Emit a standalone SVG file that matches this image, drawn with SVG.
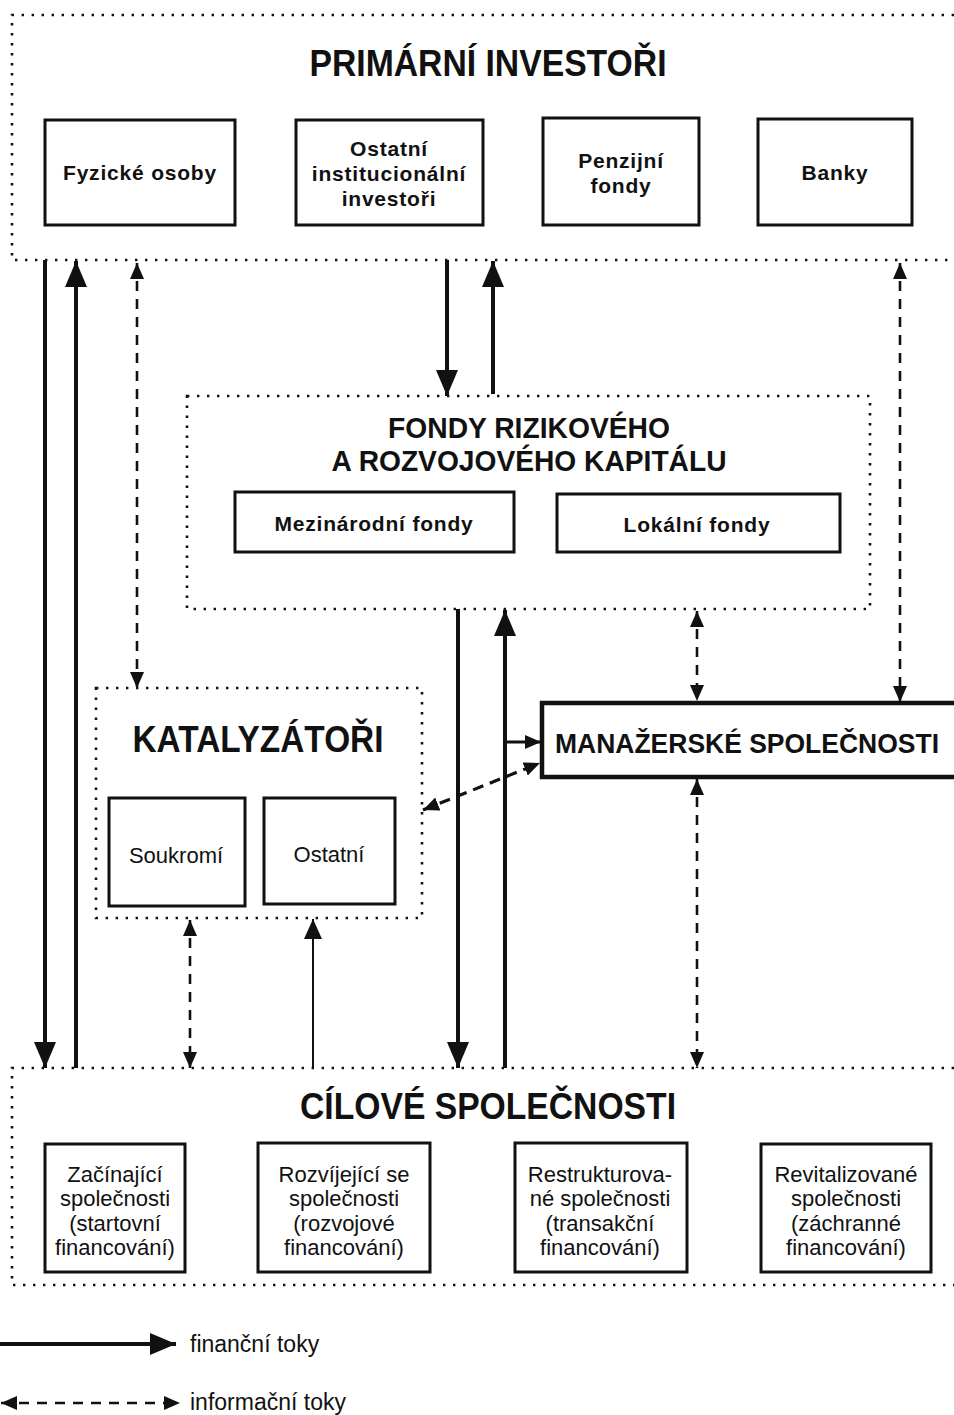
<svg xmlns="http://www.w3.org/2000/svg" width="954" height="1415" viewBox="0 0 954 1415">
<style>
.bg{fill:#ffffff}
.dot{fill:none;stroke:#111;stroke-width:2.6;stroke-dasharray:2.4 7.6}
.box{fill:#fff;stroke:#111;stroke-width:3}
.mbox{fill:#fff;stroke:#111;stroke-width:4.5}
.ttl{font-family:"Liberation Sans",Arial,sans-serif;font-weight:bold;fill:#111;text-anchor:middle}
.lb{font-family:"Liberation Sans",Arial,sans-serif;font-weight:bold;font-size:21px;letter-spacing:0.8px;fill:#111;text-anchor:middle}
.ln{font-family:"Liberation Sans",Arial,sans-serif;font-size:22px;fill:#111;text-anchor:middle}
.leg{font-family:"Liberation Sans",Arial,sans-serif;font-size:23px;fill:#111}
.fin{fill:none;stroke:#111;stroke-width:4;marker-end:url(#big)}
.fin2{fill:none;stroke:#111;stroke-width:2;marker-end:url(#mid)}
.fin3{fill:none;stroke:#111;stroke-width:3;marker-end:url(#sm)}
.inf{fill:none;stroke:#111;stroke-width:2.6;stroke-dasharray:10 8;marker-start:url(#sm);marker-end:url(#sm)}
.infd{fill:none;stroke:#111;stroke-width:3.2;stroke-dasharray:11 7;marker-start:url(#sm);marker-end:url(#sm)}
</style>
<defs>
<marker id="big" markerUnits="userSpaceOnUse" markerWidth="28" markerHeight="24" refX="26" refY="11" orient="auto"><path d="M0,0 L26,11 L0,22 z" fill="#111"/></marker>
<marker id="mid" markerUnits="userSpaceOnUse" markerWidth="22" markerHeight="20" refX="20" refY="9" orient="auto"><path d="M0,0 L20,9 L0,18 z" fill="#111"/></marker>
<marker id="sm" markerUnits="userSpaceOnUse" markerWidth="18" markerHeight="16" refX="16" refY="7" orient="auto-start-reverse"><path d="M0,0 L16,7 L0,14 z" fill="#111"/></marker>
</defs>
<rect class="bg" x="0" y="0" width="954" height="1415"/>

<g id="primarni-investori">
<path class="dot" d="M954,15 L12,15 L12,260 L954,260"/>
<text class="ttl" x="488" y="76" font-size="36" textLength="357" lengthAdjust="spacingAndGlyphs">PRIMÁRNÍ INVESTOŘI</text>
</g>
<g id="fyzicke-osoby">
<rect class="box" x="45" y="120" width="190" height="105"/>
<text class="lb" x="140" y="180">Fyzické osoby</text>
</g>
<g id="ostatni-institucionalni">
<rect class="box" x="296" y="120" width="187" height="105"/>
<text class="lb" x="389" y="156">Ostatní</text>
<text class="lb" x="389" y="181">institucionální</text>
<text class="lb" x="389" y="206">investoři</text>
</g>
<g id="penzijni-fondy">
<rect class="box" x="543" y="118" width="156" height="107"/>
<text class="lb" x="621" y="168">Penzijní</text>
<text class="lb" x="621" y="193">fondy</text>
</g>
<g id="banky">
<rect class="box" x="758" y="119" width="154" height="106"/>
<text class="lb" x="835" y="180">Banky</text>
</g>

<g id="fondy">
<rect class="dot" x="187" y="396" width="683" height="213"/>
<text class="ttl" x="529" y="438" font-size="29" textLength="282" lengthAdjust="spacingAndGlyphs">FONDY RIZIKOVÉHO</text>
<text class="ttl" x="529" y="471" font-size="29" textLength="395" lengthAdjust="spacingAndGlyphs">A ROZVOJOVÉHO KAPITÁLU</text>
</g>
<g id="mezinarodni-fondy">
<rect class="box" x="235" y="492" width="279" height="60"/>
<text class="lb" x="374" y="531">Mezinárodní fondy</text>
</g>
<g id="lokalni-fondy">
<rect class="box" x="557" y="494" width="283" height="58"/>
<text class="lb" x="697" y="532">Lokální fondy</text>
</g>

<g id="katalyzatori">
<rect class="dot" x="96" y="688" width="326" height="230"/>
<text class="ttl" x="258" y="752" font-size="36" textLength="251" lengthAdjust="spacingAndGlyphs">KATALYZÁTOŘI</text>
</g>
<g id="soukromi">
<rect class="box" x="109" y="798" width="136" height="108"/>
<text class="ln" x="176" y="863">Soukromí</text>
</g>
<g id="ostatni">
<rect class="box" x="264" y="798" width="131" height="106"/>
<text class="ln" x="329" y="862">Ostatní</text>
</g>

<g id="manazerske-spolecnosti">
<rect class="mbox" x="542" y="703" width="440" height="74"/>
<text class="ttl" x="747" y="753" font-size="27" textLength="384" lengthAdjust="spacingAndGlyphs">MANAŽERSKÉ SPOLEČNOSTI</text>
</g>

<g id="cilove-spolecnosti">
<path class="dot" d="M954,1068 L12,1068 L12,1285 L954,1285"/>
<text class="ttl" x="488" y="1119" font-size="36" textLength="376" lengthAdjust="spacingAndGlyphs">CÍLOVÉ SPOLEČNOSTI</text>
</g>
<g id="zacinajici">
<rect class="box" x="45" y="1144" width="140" height="128"/>
<text class="ln" x="115" y="1182">Začínající</text>
<text class="ln" x="115" y="1206">společnosti</text>
<text class="ln" x="115" y="1231">(startovní</text>
<text class="ln" x="115" y="1255">financování)</text>
</g>
<g id="rozvijejici">
<rect class="box" x="258" y="1143" width="172" height="129"/>
<text class="ln" x="344" y="1182">Rozvíjející se</text>
<text class="ln" x="344" y="1206">společnosti</text>
<text class="ln" x="344" y="1231">(rozvojové</text>
<text class="ln" x="344" y="1255">financování)</text>
</g>
<g id="restrukturovane">
<rect class="box" x="515" y="1143" width="172" height="129"/>
<text class="ln" x="600" y="1182">Restrukturova-</text>
<text class="ln" x="600" y="1206">né společnosti</text>
<text class="ln" x="600" y="1231">(transakční</text>
<text class="ln" x="600" y="1255">financování)</text>
</g>
<g id="revitalizovane">
<rect class="box" x="761" y="1144" width="170" height="128"/>
<text class="ln" x="846" y="1182">Revitalizované</text>
<text class="ln" x="846" y="1206">společnosti</text>
<text class="ln" x="846" y="1231">(záchranné</text>
<text class="ln" x="846" y="1255">financování)</text>
</g>

<g id="connectors">
<line class="fin" x1="45" y1="260" x2="45" y2="1068"/>
<line class="fin" x1="76" y1="1068" x2="76" y2="261"/>
<line class="inf" x1="137" y1="263" x2="137" y2="688"/>
<line class="fin" x1="447" y1="260" x2="447" y2="396"/>
<line class="fin" x1="493" y1="394" x2="493" y2="261"/>
<line class="inf" x1="900" y1="263" x2="900" y2="702"/>
<line class="fin" x1="458" y1="609" x2="458" y2="1068"/>
<line class="fin" x1="505" y1="1068" x2="505" y2="610"/>
<line class="inf" x1="697" y1="611" x2="697" y2="701"/>
<line class="fin3" x1="505" y1="742" x2="541" y2="742"/>
<line class="infd" x1="423" y1="810" x2="540" y2="763"/>
<line class="inf" x1="697" y1="779" x2="697" y2="1068"/>
<line class="inf" x1="190" y1="920" x2="190" y2="1068"/>
<line class="fin2" x1="313" y1="1068" x2="313" y2="919"/>
</g>

<g id="legend">
<line class="fin" x1="0" y1="1344" x2="176" y2="1344"/>
<text class="leg" x="190" y="1352">finanční toky</text>
<line class="inf" x1="1" y1="1403" x2="180" y2="1403"/>
<text class="leg" x="190" y="1410">informační toky</text>
</g>
</svg>
